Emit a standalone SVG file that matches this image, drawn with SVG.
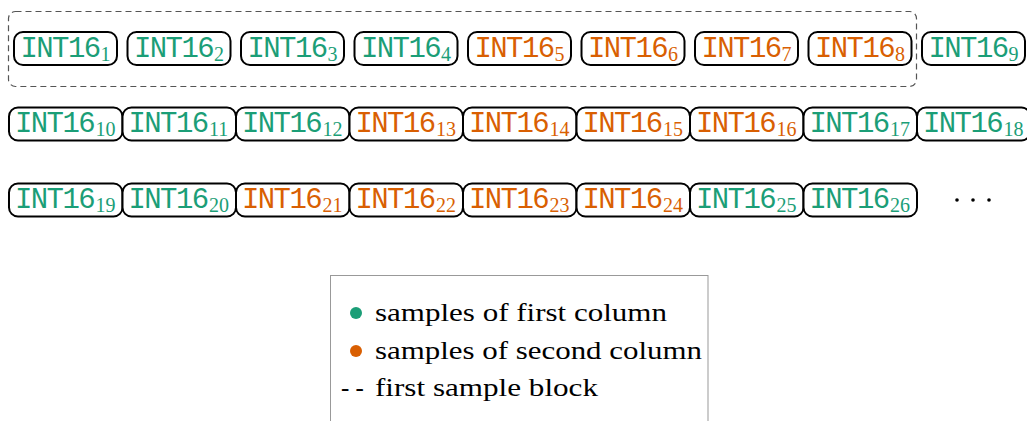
<svg xmlns="http://www.w3.org/2000/svg" width="1027" height="421" viewBox="0 0 1027 421">
<style>
.box{fill:#fff;stroke:#000;stroke-width:2}
.t{font-family:"Liberation Mono","DejaVu Sans Mono",monospace;font-size:29px;letter-spacing:-1.6px}
.s{font-family:"Liberation Serif","DejaVu Serif",serif;font-size:20px;letter-spacing:0}
.g{fill:#1b9e77}
.o{fill:#d95f02}
.lg{font-family:"Liberation Serif","DejaVu Serif",serif;font-size:25px;fill:#000}
</style>
<rect width="1027" height="421" fill="#fff"/>
<g id="block1">
<rect x="8.5" y="11.5" width="908" height="75" rx="7" fill="none" stroke="#555" stroke-width="1.2" stroke-dasharray="6 4"/>
</g>
<g id="n1"><rect class="box" x="14" y="32" width="103" height="33" rx="9"/><text class="t g" x="20.5" y="57">INT16<tspan class="s" dx="1" dy="4">1</tspan></text></g>
<g id="n2"><rect class="box" x="127.5" y="32" width="103" height="33" rx="9"/><text class="t g" x="134" y="57">INT16<tspan class="s" dx="1" dy="4">2</tspan></text></g>
<g id="n3"><rect class="box" x="241" y="32" width="103" height="33" rx="9"/><text class="t g" x="247.5" y="57">INT16<tspan class="s" dx="1" dy="4">3</tspan></text></g>
<g id="n4"><rect class="box" x="354.5" y="32" width="103" height="33" rx="9"/><text class="t g" x="361" y="57">INT16<tspan class="s" dx="1" dy="4">4</tspan></text></g>
<g id="n5"><rect class="box" x="468" y="32" width="103" height="33" rx="9"/><text class="t o" x="474.5" y="57">INT16<tspan class="s" dx="1" dy="4">5</tspan></text></g>
<g id="n6"><rect class="box" x="581.5" y="32" width="103" height="33" rx="9"/><text class="t o" x="588" y="57">INT16<tspan class="s" dx="1" dy="4">6</tspan></text></g>
<g id="n7"><rect class="box" x="695" y="32" width="103" height="33" rx="9"/><text class="t o" x="701.5" y="57">INT16<tspan class="s" dx="1" dy="4">7</tspan></text></g>
<g id="n8"><rect class="box" x="808.5" y="32" width="103" height="33" rx="9"/><text class="t o" x="815" y="57">INT16<tspan class="s" dx="1" dy="4">8</tspan></text></g>
<g id="n9"><rect class="box" x="922" y="32" width="103" height="33" rx="9"/><text class="t g" x="928.5" y="57">INT16<tspan class="s" dx="1" dy="4">9</tspan></text></g>

<g id="n10"><rect class="box" x="9" y="107.5" width="113.5" height="33" rx="9"/><text class="t g" x="15" y="131.5">INT16<tspan class="s" dx="1.5" dy="4.5">10</tspan></text></g>
<g id="n11"><rect class="box" x="122.5" y="107.5" width="113.5" height="33" rx="9"/><text class="t g" x="128.5" y="131.5">INT16<tspan class="s" dx="1.5" dy="4.5">11</tspan></text></g>
<g id="n12"><rect class="box" x="236" y="107.5" width="113.5" height="33" rx="9"/><text class="t g" x="242" y="131.5">INT16<tspan class="s" dx="1.5" dy="4.5">12</tspan></text></g>
<g id="n13"><rect class="box" x="349.5" y="107.5" width="113.5" height="33" rx="9"/><text class="t o" x="355.5" y="131.5">INT16<tspan class="s" dx="1.5" dy="4.5">13</tspan></text></g>
<g id="n14"><rect class="box" x="463" y="107.5" width="113.5" height="33" rx="9"/><text class="t o" x="469" y="131.5">INT16<tspan class="s" dx="1.5" dy="4.5">14</tspan></text></g>
<g id="n15"><rect class="box" x="576.5" y="107.5" width="113.5" height="33" rx="9"/><text class="t o" x="582.5" y="131.5">INT16<tspan class="s" dx="1.5" dy="4.5">15</tspan></text></g>
<g id="n16"><rect class="box" x="690" y="107.5" width="113.5" height="33" rx="9"/><text class="t o" x="696" y="131.5">INT16<tspan class="s" dx="1.5" dy="4.5">16</tspan></text></g>
<g id="n17"><rect class="box" x="803.5" y="107.5" width="113.5" height="33" rx="9"/><text class="t g" x="809.5" y="131.5">INT16<tspan class="s" dx="1.5" dy="4.5">17</tspan></text></g>
<g id="n18"><rect class="box" x="917" y="107.5" width="113.5" height="33" rx="9"/><text class="t g" x="923" y="131.5">INT16<tspan class="s" dx="1.5" dy="4.5">18</tspan></text></g>

<g id="n19"><rect class="box" x="9" y="183.5" width="113.5" height="33" rx="9"/><text class="t g" x="15" y="207.5">INT16<tspan class="s" dx="1.5" dy="4.5">19</tspan></text></g>
<g id="n20"><rect class="box" x="122.5" y="183.5" width="113.5" height="33" rx="9"/><text class="t g" x="128.5" y="207.5">INT16<tspan class="s" dx="1.5" dy="4.5">20</tspan></text></g>
<g id="n21"><rect class="box" x="236" y="183.5" width="113.5" height="33" rx="9"/><text class="t o" x="242" y="207.5">INT16<tspan class="s" dx="1.5" dy="4.5">21</tspan></text></g>
<g id="n22"><rect class="box" x="349.5" y="183.5" width="113.5" height="33" rx="9"/><text class="t o" x="355.5" y="207.5">INT16<tspan class="s" dx="1.5" dy="4.5">22</tspan></text></g>
<g id="n23"><rect class="box" x="463" y="183.5" width="113.5" height="33" rx="9"/><text class="t o" x="469" y="207.5">INT16<tspan class="s" dx="1.5" dy="4.5">23</tspan></text></g>
<g id="n24"><rect class="box" x="576.5" y="183.5" width="113.5" height="33" rx="9"/><text class="t o" x="582.5" y="207.5">INT16<tspan class="s" dx="1.5" dy="4.5">24</tspan></text></g>
<g id="n25"><rect class="box" x="690" y="183.5" width="113.5" height="33" rx="9"/><text class="t g" x="696" y="207.5">INT16<tspan class="s" dx="1.5" dy="4.5">25</tspan></text></g>
<g id="n26"><rect class="box" x="803.5" y="183.5" width="113.5" height="33" rx="9"/><text class="t g" x="809.5" y="207.5">INT16<tspan class="s" dx="1.5" dy="4.5">26</tspan></text></g>

<g id="ellipsis" fill="#000"><circle cx="957" cy="200" r="1.8"/><circle cx="973" cy="200" r="1.8"/><circle cx="989" cy="200" r="1.8"/></g>

<g id="connectors"></g>

<g id="legend">
<rect x="330.5" y="275.5" width="377.5" height="160" fill="#fff" stroke="#999" stroke-width="1"/>
<circle cx="356" cy="313" r="6" fill="#1b9e77"/>
<text class="lg" x="375" y="321" textLength="292" lengthAdjust="spacingAndGlyphs">samples of first column</text>
<circle cx="356" cy="351" r="6" fill="#d95f02"/>
<text class="lg" x="375" y="359" textLength="327" lengthAdjust="spacingAndGlyphs">samples of second column</text>
<text class="lg" x="341" y="396">- -</text>
<text class="lg" x="375" y="396" textLength="223" lengthAdjust="spacingAndGlyphs">first sample block</text>
</g>
</svg>
